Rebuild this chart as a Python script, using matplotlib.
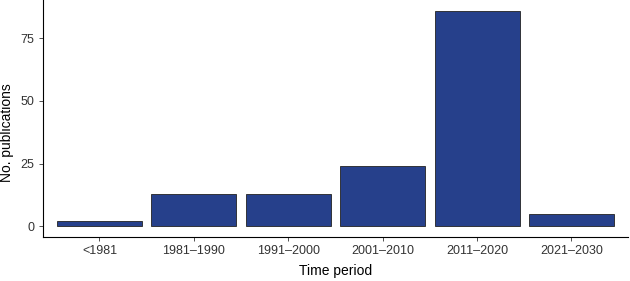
import matplotlib
matplotlib.use("Agg")
import matplotlib.pyplot as plt

# data
periods = ["<1981", "1981\u20131990", "1991\u20132000", "2001\u20132010", "2011\u20132020", "2021\u20132030"]
counts = [2, 13, 13, 24, 86, 5]
yticks = [0, 25, 50, 75]

plt.rcParams['font.family'] = ['Liberation Sans', 'DejaVu Sans']

fig = plt.figure(figsize=(6.3, 2.81), dpi=100)
ax = fig.add_axes([0.068, 0.157, 0.929, 0.843])

xpos = list(range(1, len(periods) + 1))
ax.bar(xpos, counts, width=0.9, color='#26408B', edgecolor='#222222', linewidth=0.6)

ax.set_xlim(0.4, len(periods) + 0.6)
ax.set_ylim(-4.3, 90.3)
ax.set_xticks(xpos)
ax.set_xticklabels(periods)
ax.set_yticks(yticks)

for side in ['top', 'right']:
    ax.spines[side].set_visible(False)
for side in ['left', 'bottom']:
    ax.spines[side].set_linewidth(0.8)
    ax.spines[side].set_color('black')

ax.tick_params(axis='both', length=3, width=0.6, color='#333333',
               labelsize=9, labelcolor='#333333', pad=3)

ax.set_xlabel('Time period', fontsize=10, labelpad=5)
ax.set_ylabel('No. publications', fontsize=10)
ax.yaxis.set_label_coords(-0.05, 0.44)

fig.savefig('out.png', dpi=100)
